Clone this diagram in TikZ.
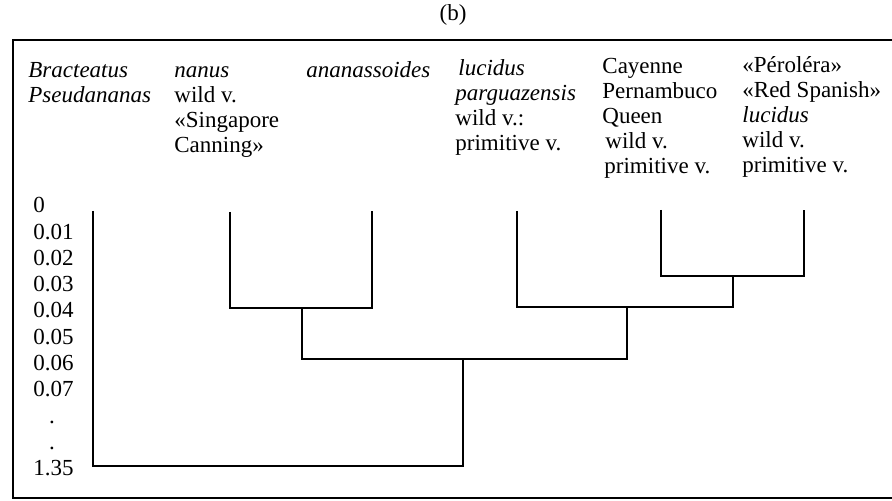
\documentclass[tikz,border=0pt]{standalone}
\usepackage{fontspec}
\setmainfont{Liberation Serif}
\usetikzlibrary{positioning, calc}
\tikzset{
  taxon/.style={
    anchor=north west, inner sep=0pt, align=left,
    font=\fontsize{11.5}{12.6}\selectfont
  },
  scalelab/.style={anchor=base west, inner sep=0pt, font=\fontsize{11.5}{12.6}\selectfont},
  scaledot/.style={anchor=base, inner sep=0pt, font=\fontsize{11.5}{12.6}\selectfont},
  branch/.style={line width=0.8pt},
  boxline/.style={line width=1.1pt}
}

\begin{document}
\begin{tikzpicture}[x=0.5pt, y=-0.5pt]
\useasboundingbox (0,0) rectangle (892,501);

%% caption and open frame
\node[font=\fontsize{11.5}{12.6}\selectfont] (cap) at (453,15) {(b)};
\coordinate (fTR) at (892,40);
\coordinate (fTL) at (13,40);
\coordinate (fBL) at (13,498);
\coordinate (fBR) at (892,498);
\draw[boxline] (fTR) -- (fTL) -- (fBL) -- (fBR);

%% taxa (first line strutted so all columns share a baseline)
\node[taxon] (tbrac) at (28,59) {\strut\textit{Bracteatus}\\ \textit{Pseudananas}};
\node[taxon] (tnanus) at (174,59) {\strut\textit{nanus}\\ wild v.\\ «Singapore\\ Canning»};
\node[taxon] (tanan) at (306,59) {\strut\textit{ananassoides}};
\node[taxon] (tluc) at (455,57) {\strut\hspace{1.5pt}\textit{lucidus}\\ \textit{parguazensis}\\ wild v.:\\ primitive v.};
\node[taxon] (tcay) at (602,55) {\strut Cayenne\\ Pernambuco\\ Queen\\ \hspace{1.5pt}wild v.\\ \hspace{1pt}primitive v.};
\node[taxon] (tper) at (742,54) {\strut«Péroléra»\\ «Red Spanish»\\ \textit{lucidus}\\ wild v.\\ primitive v.};

%% distance scale
\node[scalelab] (s0) at (33,213) {0};
\node[scalelab] (s1) at (33,239.25) {0.01};
\node[scalelab] (s2) at (33,265.5) {0.02};
\node[scalelab] (s3) at (33,291.75) {0.03};
\node[scalelab] (s4) at (33,318) {0.04};
\node[scalelab] (s5) at (33,344.25) {0.05};
\node[scalelab] (s6) at (33,370.5) {0.06};
\node[scalelab] (s7) at (33,396.75) {0.07};
\node[scaledot] (s8) at (52,423) {.};
\node[scaledot] (s9) at (52,449.25) {.};
\node[scalelab] (s10) at (33,475.5) {1.35};

%% leaves
\coordinate (brac) at (93,211);
\coordinate (nanus) at (230,212);
\coordinate (anan) at (372,211);
\coordinate (luc) at (517,211);
\coordinate (cay) at (661,210);
\coordinate (per) at (804,210);

%% joins
\coordinate (jA) at (302,308);
\coordinate (jB) at (733,276);
\coordinate (jC) at (627,307);
\coordinate (jD) at (463,359);
\coordinate (jE) at (463,466);

% dendrogram
\draw[branch] (nanus) |- (jA) -| (anan);
\draw[branch] (cay) |- (jB) -| (per);
\draw[branch] (luc) |- (jC) -| (jB);
\draw[branch] (jA) |- (jD) -| (jC);
\draw[branch] (brac) |- (jE) -| (jD);

\end{tikzpicture}
\end{document}
